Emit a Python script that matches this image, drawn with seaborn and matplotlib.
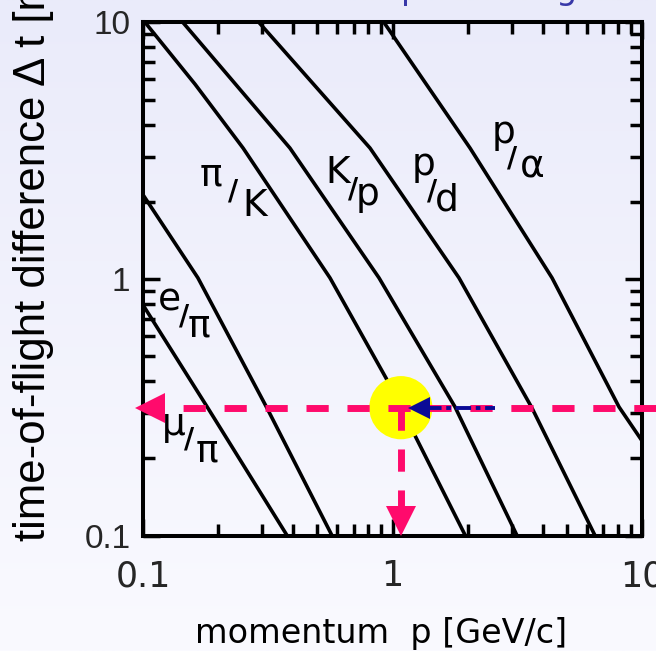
import numpy as np
import pandas as pd
import matplotlib
matplotlib.use("Agg")
import matplotlib.pyplot as plt
import seaborn as sns
from matplotlib.colors import LinearSegmentedColormap
from matplotlib.ticker import LogLocator, NullFormatter, FixedLocator, FixedFormatter

# ---------------- data ----------------
pairs = ["e/π", "μ/π", "π/K", "K/p", "p/d", "p/α"]

p_e_pi = [0.1, 0.166, 0.314, 0.572]
dt_e_pi = [2.13, 1.01, 0.314, 0.1]

p_mu_pi = [0.1, 0.182, 0.378]
dt_mu_pi = [0.792, 0.314, 0.1]

p_pi_k = [0.102, 0.1616, 0.2518, 0.5616, 0.942, 1.953]
dt_pi_k = [10.0, 5.75, 3.24, 1.01, 0.411, 0.1005]

p_k_p = [0.1446, 0.388, 0.883, 1.781, 3.155]
dt_k_p = [10.0, 3.24, 1.01, 0.317, 0.1]

p_p_d = [0.2917, 0.8125, 1.847, 3.624, 6.48]
dt_p_d = [10.0, 3.24, 1.01, 0.314, 0.1]

p_p_alpha = [0.9246, 2.045, 4.36, 8.09, 10.0]
dt_p_alpha = [10.0, 3.24, 1.01, 0.317, 0.234]

# highlighted working point
p_mark = 1.08
dt_mark = 0.315

x_ticks = [0.1, 1, 10]
x_ticklabels = ["0.1", "1", "10"]
y_ticks = [0.1, 1, 10]
y_ticklabels = ["0.1", "1", "10"]

# curve labels: numerator / denominator
label_num = ["e", "μ", "π", "K", "p", "p"]
label_den = ["π", "π", "K", "p", "d", "α"]

series_p = [p_e_pi, p_mu_pi, p_pi_k, p_k_p, p_p_d, p_p_alpha]
series_dt = [dt_e_pi, dt_mu_pi, dt_pi_k, dt_k_p, dt_p_d, dt_p_alpha]
df = pd.concat(
    [pd.DataFrame({"pair": name, "p": ps, "dt": ds})
     for name, ps, ds in zip(pairs, series_p, series_dt)],
    ignore_index=True)

# ---------------- style ----------------
sns.set_theme(style="ticks")
plt.rcParams["font.family"] = ["DejaVu Sans"]

W, H = 656, 651
fig = plt.figure(figsize=(W / 100, H / 100), dpi=100)

# background gradient
bg = fig.add_axes([0, 0, 1, 1], zorder=0)
grad = np.linspace(0, 1, 256).reshape(-1, 1)
cmap = LinearSegmentedColormap.from_list("bg", ["#eaebfa", "#fafaff"])
bg.imshow(grad, aspect="auto", cmap=cmap, extent=[0, 1, 0, 1], origin="upper")
bg.axis("off")

# main axes (pixel layout)
L, R, T, B = 143, 642, 22.5, 535.5
ax = fig.add_axes([L / W, (H - B) / H, (R - L) / W, (B - T) / H], zorder=1)
ax.set_facecolor("none")
ax.set_xscale("log")
ax.set_yscale("log")

sns.lineplot(data=df, x="p", y="dt", units="pair", estimator=None, sort=False,
             color="black", linewidth=2.6, ax=ax, legend=False)

ax.set_xlim(0.1, 10)
ax.set_ylim(0.1, 10)

for s in ax.spines.values():
    s.set_linewidth(2.9)
    s.set_color("black")
    s.set_visible(True)

ax.xaxis.set_major_locator(FixedLocator(x_ticks))
ax.xaxis.set_major_formatter(FixedFormatter(x_ticklabels))
ax.yaxis.set_major_locator(FixedLocator(y_ticks))
ax.yaxis.set_major_formatter(FixedFormatter(y_ticklabels))
ax.xaxis.set_minor_locator(LogLocator(base=10, subs=np.arange(2, 10)))
ax.yaxis.set_minor_locator(LogLocator(base=10, subs=np.arange(2, 10)))
ax.xaxis.set_minor_formatter(NullFormatter())
ax.yaxis.set_minor_formatter(NullFormatter())

ax.tick_params(which="both", direction="in", top=True, right=True,
               color="black", width=2.5)
ax.tick_params(which="major", length=12)
ax.tick_params(which="minor", length=8.5)
ax.tick_params(axis="x", which="major", pad=17, labelsize=25)
ax.tick_params(axis="y", which="major", pad=9, labelsize=24)
for lab in ax.get_xticklabels():
    lab.set_family(["Liberation Sans Narrow", "DejaVu Sans"])
    lab.set_fontsize(25)
for lab in ax.get_yticklabels():
    lab.set_family(["Liberation Sans", "DejaVu Sans"])
    lab.set_fontsize(24)

ax.set_xlabel("momentum  p [GeV/c]", fontsize=24, color="black")
ax.xaxis.label.set_va("baseline")
ax.xaxis.set_label_coords((381 - L) / (R - L), (B - 643) / (B - T))

ax.set_ylabel("time-of-flight difference Δ t [ns]", fontsize=31.5,
              family=["Liberation Sans", "DejaVu Sans"], color="black")
ax.yaxis.label.set_ha("left")
ax.yaxis.label.set_va("center")
ax.yaxis.set_label_coords((34 - L) / (R - L), (B - 541) / (B - T))

# ---------------- curve labels ----------------
lab_p = [0.1148, 0.1192, 0.1693, 0.5365, 1.197, 2.505]
lab_dt = [0.757, 0.2464, 2.325, 2.367, 2.544, 3.39]
slash_off = [(21, -14), (22, -12), (28, -14), (23, -14), (15, -25), (15, -23)]
den_off = [(30, -26), (34, -26), (42, -31), (31, -22), (23, -36), (28, -34)]
for num, den, px, py, so, do in zip(label_num, label_den, lab_p, lab_dt,
                                    slash_off, den_off):
    ax.annotate(num, xy=(px, py), xycoords="data", fontsize=27,
                ha="left", va="baseline", color="black")
    ax.annotate("/", xy=(px, py), xycoords="data", xytext=so,
                textcoords="offset pixels", fontsize=20, fontweight="bold",
                ha="left", va="baseline", color="black")
    ax.annotate(den, xy=(px, py), xycoords="data", xytext=do,
                textcoords="offset pixels", fontsize=27,
                ha="left", va="baseline", color="black")

# ---------------- highlighted working point ----------------
pink = "#ff0a6c"
ax.scatter([p_mark], [dt_mark], s=45.5 ** 2, color="#ffff00",
           edgecolor="none", zorder=5, clip_on=False)
# horizontal dashed line to the left arrow head
ax.plot([11.4, 0.107], [dt_mark, dt_mark], color=pink, lw=5,
        dashes=(3.2, 2.7), solid_capstyle="butt", dash_capstyle="butt",
        zorder=6, clip_on=False)
ax.plot([0.1067], [dt_mark], marker="<", markersize=22, color=pink,
        markeredgewidth=0, zorder=7, clip_on=False)
# vertical dashed line down to the axis
ax.plot([p_mark, p_mark], [dt_mark, 0.118], color=pink, lw=5,
        dashes=(3.2, 2.7), dash_capstyle="butt", zorder=6, clip_on=False)
ax.plot([p_mark], [0.1139], marker="v", markersize=22, color=pink,
        markeredgewidth=0, zorder=7, clip_on=False)
# blue arrow
ax.plot([1.36, 2.58], [dt_mark, dt_mark], color="#0a0a96", lw=2.8,
        dashes=(4.0, 1.2, 1.2, 1.2), zorder=8)
ax.plot([1.276], [dt_mark], marker="<", markersize=16, color="#0a0a96",
        markeredgewidth=0, zorder=9)

# cut-off slide title descenders
fig.text(401 / W, 1 + 1.5 / H, "p", color="#3838a8", fontsize=24,
         ha="left", va="baseline")
fig.text(555 / W, 1 + 1.5 / H, "g", color="#3838a8", fontsize=24,
         ha="left", va="baseline")

fig.savefig("out.png", dpi=100)
